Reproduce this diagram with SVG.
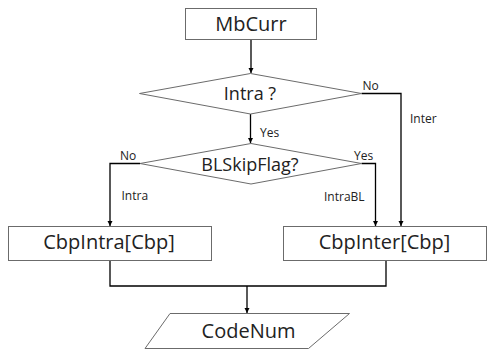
<svg xmlns="http://www.w3.org/2000/svg" width="487" height="350" viewBox="0 0 487 350">
<style>
.node{fill:#fff;stroke:#6b6b6b;stroke-width:1}
.big{font-family:"Open Sans","Noto Sans",sans-serif;font-size:20px;fill:#222;text-anchor:middle}
.mid{font-family:"Open Sans","Noto Sans",sans-serif;font-size:18px;fill:#222;text-anchor:middle}
.lbl{font-family:"Open Sans","Noto Sans",sans-serif;font-size:12px;fill:#222}
.edge{fill:none;stroke:#000;stroke-width:1.3}
</style>
<defs>
<marker id="ah" viewBox="0 0 10 10" refX="10" refY="5" markerWidth="5" markerHeight="6" orient="auto" markerUnits="userSpaceOnUse">
<path d="M0,0 L10,5 L0,10 z" fill="#000"/>
</marker>
</defs>
<rect width="487" height="350" fill="#fff"/>
<g id="connectors">
<path class="edge" d="M251,39.5 V73" marker-end="url(#ah)"/>
<path class="edge" d="M361.5,93.5 H401 V226" marker-end="url(#ah)"/>
<path class="edge" d="M250.5,114 V143" marker-end="url(#ah)"/>
<path class="edge" d="M140,163.5 H110 V226" marker-end="url(#ah)"/>
<path class="edge" d="M361.5,163.5 H375.5 V226" marker-end="url(#ah)"/>
<path class="edge" d="M110,260.5 V286 H386 V260.5"/>
<path class="edge" d="M247,286 V313" marker-end="url(#ah)"/>
</g>
<g id="labels">
<text class="lbl" x="362.5" y="90">No</text>
<text class="lbl" x="410" y="123">Inter</text>
<text class="lbl" x="260" y="136.5">Yes</text>
<text class="lbl" x="120" y="160">No</text>
<text class="lbl" x="121.5" y="199.5">Intra</text>
<text class="lbl" x="354" y="160">Yes</text>
<text class="lbl" x="324" y="200.5">IntraBL</text>
</g>
<g id="mbcurr">
<rect class="node" x="185.5" y="8.5" width="131" height="31"/>
<text class="big" x="251" y="30.5">MbCurr</text>
</g>
<g id="intra">
<polygon class="node" points="250.5,73.5 361.5,93.5 250.5,114 139.5,93.5"/>
<text class="mid" x="250" y="100">Intra ?</text>
</g>
<g id="blskip">
<polygon class="node" points="251,143.5 361.5,163.5 251,184 140,163.5"/>
<text class="mid" x="250" y="171">BLSkipFlag?</text>
</g>
<g id="cbpintra">
<rect class="node" x="8.5" y="226.5" width="203" height="34"/>
<text class="big" x="109" y="248.5">CbpIntra[Cbp]</text>
</g>
<g id="cbpinter">
<rect class="node" x="283.5" y="226.5" width="203" height="34"/>
<text class="big" x="384.5" y="248.5">CbpInter[Cbp]</text>
</g>
<g id="codenum">
<polygon class="node" points="170,313.5 349.5,313.5 308.5,348.5 145,348.5"/>
<text class="big" x="248.5" y="338">CodeNum</text>
</g>
</svg>
